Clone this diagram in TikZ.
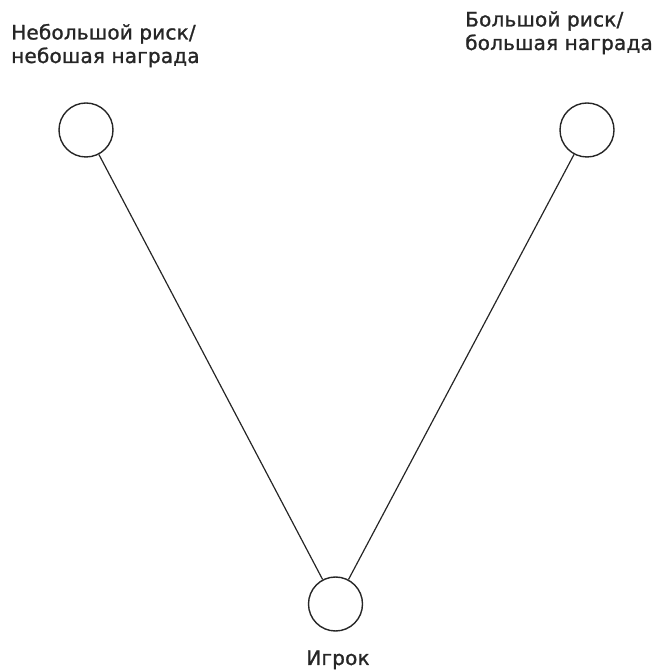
\documentclass[tikz,border=0pt]{standalone}
\usepackage{fontspec}
\setmainfont{DejaVu Sans}[FakeBold=1.2,LetterSpace=1]
\begin{document}
\begin{tikzpicture}[x=1pt,y=1pt,
  state/.style={circle, draw=black!85, line width=1.4pt, minimum size=54pt, inner sep=0pt},
  link/.style={draw=black!85, line width=1.2pt},
  lbl/.style={font=\fontsize{20}{23.5}\selectfont, text=black!85, inner sep=0pt, align=left}]
\useasboundingbox (0,0) rectangle (656,672);
\node[state] (low) at (86,542) {};
\node[state] (high) at (587,542) {};
\node[state] (player) at (335.5,68) {};
\draw[link] (low) -- (player);
\draw[link] (high) -- (player);
\node[lbl, anchor=base west] (lowlbl) at (11,609) {Небольшой риск/\\небошая награда};
\node[lbl, anchor=base west] (highlbl) at (465,622) {Большой риск/\\большая награда};
\node[lbl, anchor=base] (playerlbl) at (338,7) {Игрок};
\end{tikzpicture}
\end{document}
